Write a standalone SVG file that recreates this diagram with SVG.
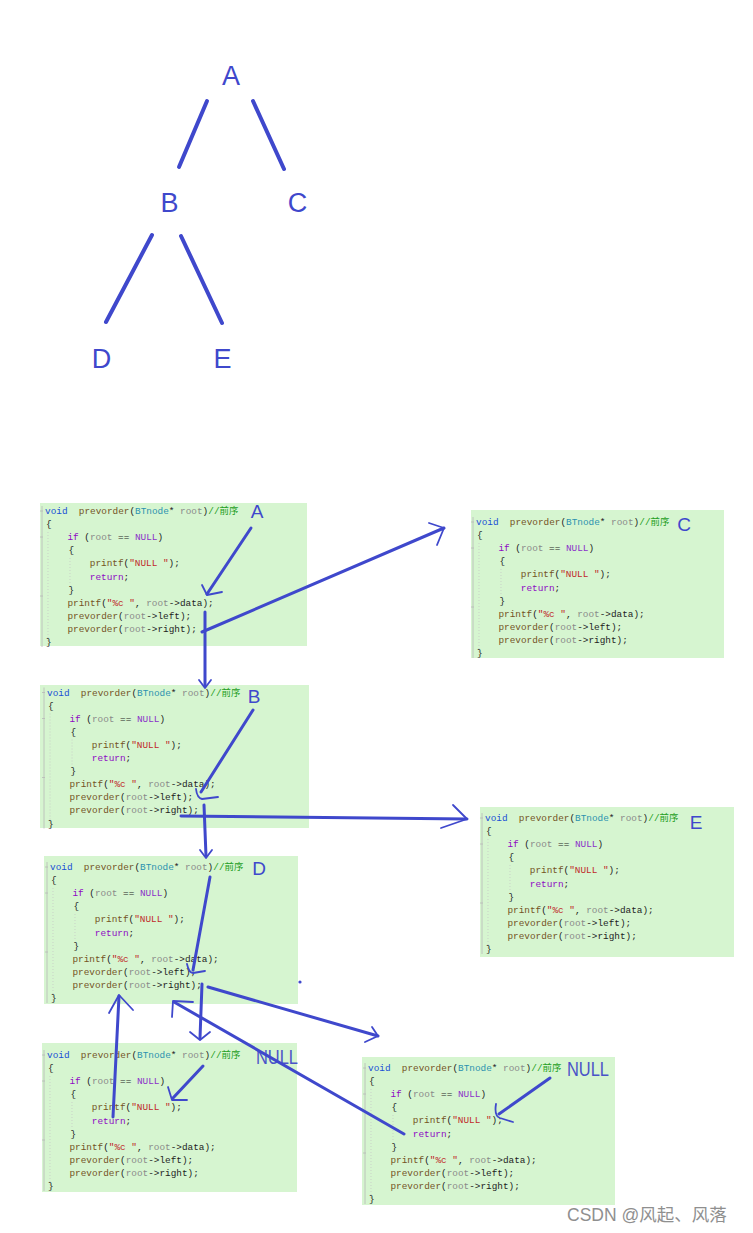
<svg xmlns="http://www.w3.org/2000/svg" width="753" height="1233" viewBox="0 0 753 1233">
<style>
.bg{fill:#ffffff}
.tl{font-family:"Liberation Sans","Noto Sans",sans-serif;font-size:27px;fill:#3f48cc;text-anchor:middle}
.edge{stroke:#3f48cc;stroke-width:4;stroke-linecap:round;fill:none}
.box{fill:#d6f5d0}
.code{font-family:"Liberation Mono","Noto Sans CJK SC",monospace;font-size:9.4px;fill:#1e1e1e;white-space:pre}
.k{fill:#1a4fd6}
.f{fill:#74531f}
.t{fill:#2b91af}
.p{fill:#8a8a8a}
.c{fill:#1e9e1e}
.kw{fill:#8f08c4}
.m{fill:#8b2fc9}
.s{fill:#c0282a}
.gut{stroke:#b8b8b8;stroke-width:0.8;fill:none}
.guide{stroke:#c4c4c4;stroke-width:0.7;stroke-dasharray:1 2;fill:none}
.hl{font-family:"Liberation Sans","Noto Sans",sans-serif;font-size:19px;fill:#3f48cc;text-anchor:middle}
.nl{font-family:"Liberation Sans","Noto Sans",sans-serif;font-size:20px;fill:#4a52c8}
.ln{stroke:#3f48cc;stroke-width:3;stroke-linecap:round;stroke-linejoin:round;fill:none}
.hd{stroke:#3f48cc;stroke-width:1.8;stroke-linecap:round;stroke-linejoin:round;fill:none}
.wm{font-family:"Liberation Sans","Noto Sans CJK SC",sans-serif;font-size:17.5px;fill:#8f8f8f}
</style>
<defs>
<g id="gutter">
<path class="gut" d="M-3,-8 V133"/>
<path class="gut" d="M-5,-3 H-2 M-5,23 H-2 M-5,82 H-2"/>
<path class="guide" d="M3,18 V130 M25,44 V70"/>
</g>
</defs>
<rect class="bg" x="0" y="0" width="753" height="1233"/>

<!-- Tree -->
<g id="tree-A"><text class="tl" x="231" y="85">A</text></g>
<g id="tree-B"><text class="tl" x="169.5" y="212">B</text></g>
<g id="tree-C"><text class="tl" x="297.5" y="212">C</text></g>
<g id="tree-D"><text class="tl" x="101.5" y="368">D</text></g>
<g id="tree-E"><text class="tl" x="222.5" y="368">E</text></g>

<!-- Code box A -->
<g id="node-A">
<rect class="box" x="40" y="503" width="267" height="143"/>
<g transform="translate(45,514)">
<use href="#gutter"/>
<text class="code" x="0" y="0"><tspan class="k">void</tspan>  <tspan class="f">prevorder</tspan>(<tspan class="t">BTnode</tspan>* <tspan class="p">root</tspan>)<tspan class="c">//前序</tspan></text>
<text class="code" x="1" y="13.1">{</text>
<text class="code" x="22.4" y="26.2"><tspan class="kw">if</tspan> (<tspan class="p">root</tspan> == <tspan class="m">NULL</tspan>)</text>
<text class="code" x="23.4" y="39.3">{</text>
<text class="code" x="44.8" y="52.4"><tspan class="f">printf</tspan>(<tspan class="s">"NULL "</tspan>);</text>
<text class="code" x="44.8" y="65.5"><tspan class="kw">return</tspan>;</text>
<text class="code" x="23.4" y="78.6">}</text>
<text class="code" x="22.4" y="91.7"><tspan class="f">printf</tspan>(<tspan class="s">"%c "</tspan>, <tspan class="p">root</tspan>-&gt;data);</text>
<text class="code" x="22.4" y="104.8"><tspan class="f">prevorder</tspan>(<tspan class="p">root</tspan>-&gt;left);</text>
<text class="code" x="22.4" y="117.9"><tspan class="f">prevorder</tspan>(<tspan class="p">root</tspan>-&gt;right);</text>
<text class="code" x="1" y="131">}</text>
</g>
<text class="hl" x="257" y="518">A</text>
</g>

<!-- Code box C -->
<g id="node-C">
<rect class="box" x="471" y="510" width="253" height="148"/>
<g transform="translate(476,525)">
<use href="#gutter"/>
<text class="code" x="0" y="0"><tspan class="k">void</tspan>  <tspan class="f">prevorder</tspan>(<tspan class="t">BTnode</tspan>* <tspan class="p">root</tspan>)<tspan class="c">//前序</tspan></text>
<text class="code" x="1" y="13.1">{</text>
<text class="code" x="22.4" y="26.2"><tspan class="kw">if</tspan> (<tspan class="p">root</tspan> == <tspan class="m">NULL</tspan>)</text>
<text class="code" x="23.4" y="39.3">{</text>
<text class="code" x="44.8" y="52.4"><tspan class="f">printf</tspan>(<tspan class="s">"NULL "</tspan>);</text>
<text class="code" x="44.8" y="65.5"><tspan class="kw">return</tspan>;</text>
<text class="code" x="23.4" y="78.6">}</text>
<text class="code" x="22.4" y="91.7"><tspan class="f">printf</tspan>(<tspan class="s">"%c "</tspan>, <tspan class="p">root</tspan>-&gt;data);</text>
<text class="code" x="22.4" y="104.8"><tspan class="f">prevorder</tspan>(<tspan class="p">root</tspan>-&gt;left);</text>
<text class="code" x="22.4" y="117.9"><tspan class="f">prevorder</tspan>(<tspan class="p">root</tspan>-&gt;right);</text>
<text class="code" x="1" y="131">}</text>
</g>
<text class="hl" x="684" y="531">C</text>
</g>

<!-- Code box B -->
<g id="node-B">
<rect class="box" x="40" y="685" width="269" height="143"/>
<g transform="translate(47,695.5)">
<use href="#gutter"/>
<text class="code" x="0" y="0"><tspan class="k">void</tspan>  <tspan class="f">prevorder</tspan>(<tspan class="t">BTnode</tspan>* <tspan class="p">root</tspan>)<tspan class="c">//前序</tspan></text>
<text class="code" x="1" y="13.1">{</text>
<text class="code" x="22.4" y="26.2"><tspan class="kw">if</tspan> (<tspan class="p">root</tspan> == <tspan class="m">NULL</tspan>)</text>
<text class="code" x="23.4" y="39.3">{</text>
<text class="code" x="44.8" y="52.4"><tspan class="f">printf</tspan>(<tspan class="s">"NULL "</tspan>);</text>
<text class="code" x="44.8" y="65.5"><tspan class="kw">return</tspan>;</text>
<text class="code" x="23.4" y="78.6">}</text>
<text class="code" x="22.4" y="91.7"><tspan class="f">printf</tspan>(<tspan class="s">"%c "</tspan>, <tspan class="p">root</tspan>-&gt;data);</text>
<text class="code" x="22.4" y="104.8"><tspan class="f">prevorder</tspan>(<tspan class="p">root</tspan>-&gt;left);</text>
<text class="code" x="22.4" y="117.9"><tspan class="f">prevorder</tspan>(<tspan class="p">root</tspan>-&gt;right);</text>
<text class="code" x="1" y="131">}</text>
</g>
<text class="hl" x="254" y="703">B</text>
</g>

<!-- Code box E -->
<g id="node-E">
<rect class="box" x="480" y="807" width="254" height="150"/>
<g transform="translate(485,821)">
<use href="#gutter"/>
<text class="code" x="0" y="0"><tspan class="k">void</tspan>  <tspan class="f">prevorder</tspan>(<tspan class="t">BTnode</tspan>* <tspan class="p">root</tspan>)<tspan class="c">//前序</tspan></text>
<text class="code" x="1" y="13.1">{</text>
<text class="code" x="22.4" y="26.2"><tspan class="kw">if</tspan> (<tspan class="p">root</tspan> == <tspan class="m">NULL</tspan>)</text>
<text class="code" x="23.4" y="39.3">{</text>
<text class="code" x="44.8" y="52.4"><tspan class="f">printf</tspan>(<tspan class="s">"NULL "</tspan>);</text>
<text class="code" x="44.8" y="65.5"><tspan class="kw">return</tspan>;</text>
<text class="code" x="23.4" y="78.6">}</text>
<text class="code" x="22.4" y="91.7"><tspan class="f">printf</tspan>(<tspan class="s">"%c "</tspan>, <tspan class="p">root</tspan>-&gt;data);</text>
<text class="code" x="22.4" y="104.8"><tspan class="f">prevorder</tspan>(<tspan class="p">root</tspan>-&gt;left);</text>
<text class="code" x="22.4" y="117.9"><tspan class="f">prevorder</tspan>(<tspan class="p">root</tspan>-&gt;right);</text>
<text class="code" x="1" y="131">}</text>
</g>
<text class="hl" x="696" y="829">E</text>
</g>

<!-- Code box D -->
<g id="node-D">
<rect class="box" x="44" y="856" width="254" height="148"/>
<g transform="translate(50,870)">
<use href="#gutter"/>
<text class="code" x="0" y="0"><tspan class="k">void</tspan>  <tspan class="f">prevorder</tspan>(<tspan class="t">BTnode</tspan>* <tspan class="p">root</tspan>)<tspan class="c">//前序</tspan></text>
<text class="code" x="1" y="13.1">{</text>
<text class="code" x="22.4" y="26.2"><tspan class="kw">if</tspan> (<tspan class="p">root</tspan> == <tspan class="m">NULL</tspan>)</text>
<text class="code" x="23.4" y="39.3">{</text>
<text class="code" x="44.8" y="52.4"><tspan class="f">printf</tspan>(<tspan class="s">"NULL "</tspan>);</text>
<text class="code" x="44.8" y="65.5"><tspan class="kw">return</tspan>;</text>
<text class="code" x="23.4" y="78.6">}</text>
<text class="code" x="22.4" y="91.7"><tspan class="f">printf</tspan>(<tspan class="s">"%c "</tspan>, <tspan class="p">root</tspan>-&gt;data);</text>
<text class="code" x="22.4" y="104.8"><tspan class="f">prevorder</tspan>(<tspan class="p">root</tspan>-&gt;left);</text>
<text class="code" x="22.4" y="117.9"><tspan class="f">prevorder</tspan>(<tspan class="p">root</tspan>-&gt;right);</text>
<text class="code" x="1" y="131">}</text>
</g>
<text class="hl" x="259" y="875">D</text>
</g>

<!-- Code box NULL (left child of D) -->
<g id="node-NULL-left">
<rect class="box" x="42" y="1043" width="255" height="149"/>
<g transform="translate(47,1058)">
<use href="#gutter"/>
<text class="code" x="0" y="0"><tspan class="k">void</tspan>  <tspan class="f">prevorder</tspan>(<tspan class="t">BTnode</tspan>* <tspan class="p">root</tspan>)<tspan class="c">//前序</tspan></text>
<text class="code" x="1" y="13.1">{</text>
<text class="code" x="22.4" y="26.2"><tspan class="kw">if</tspan> (<tspan class="p">root</tspan> == <tspan class="m">NULL</tspan>)</text>
<text class="code" x="23.4" y="39.3">{</text>
<text class="code" x="44.8" y="52.4"><tspan class="f">printf</tspan>(<tspan class="s">"NULL "</tspan>);</text>
<text class="code" x="44.8" y="65.5"><tspan class="kw">return</tspan>;</text>
<text class="code" x="23.4" y="78.6">}</text>
<text class="code" x="22.4" y="91.7"><tspan class="f">printf</tspan>(<tspan class="s">"%c "</tspan>, <tspan class="p">root</tspan>-&gt;data);</text>
<text class="code" x="22.4" y="104.8"><tspan class="f">prevorder</tspan>(<tspan class="p">root</tspan>-&gt;left);</text>
<text class="code" x="22.4" y="117.9"><tspan class="f">prevorder</tspan>(<tspan class="p">root</tspan>-&gt;right);</text>
<text class="code" x="1" y="131">}</text>
</g>
<text class="nl" x="256" y="1064" textLength="42" lengthAdjust="spacingAndGlyphs">NULL</text>
</g>

<!-- Code box NULL (right child of D) -->
<g id="node-NULL-right">
<rect class="box" x="362" y="1057" width="253" height="148"/>
<g transform="translate(368,1071)">
<use href="#gutter"/>
<text class="code" x="0" y="0"><tspan class="k">void</tspan>  <tspan class="f">prevorder</tspan>(<tspan class="t">BTnode</tspan>* <tspan class="p">root</tspan>)<tspan class="c">//前序</tspan></text>
<text class="code" x="1" y="13.1">{</text>
<text class="code" x="22.4" y="26.2"><tspan class="kw">if</tspan> (<tspan class="p">root</tspan> == <tspan class="m">NULL</tspan>)</text>
<text class="code" x="23.4" y="39.3">{</text>
<text class="code" x="44.8" y="52.4"><tspan class="f">printf</tspan>(<tspan class="s">"NULL "</tspan>);</text>
<text class="code" x="44.8" y="65.5"><tspan class="kw">return</tspan>;</text>
<text class="code" x="23.4" y="78.6">}</text>
<text class="code" x="22.4" y="91.7"><tspan class="f">printf</tspan>(<tspan class="s">"%c "</tspan>, <tspan class="p">root</tspan>-&gt;data);</text>
<text class="code" x="22.4" y="104.8"><tspan class="f">prevorder</tspan>(<tspan class="p">root</tspan>-&gt;left);</text>
<text class="code" x="22.4" y="117.9"><tspan class="f">prevorder</tspan>(<tspan class="p">root</tspan>-&gt;right);</text>
<text class="code" x="1" y="131">}</text>
</g>
<text class="nl" x="567" y="1076" textLength="42" lengthAdjust="spacingAndGlyphs">NULL</text>
</g>

<!-- Connectors -->
<g id="connectors">
<!-- tree edges -->
<path class="edge" d="M207,101 L179,167"/>
<path class="edge" d="M253,101 L284,169"/>
<path class="edge" d="M152,235 L106,322"/>
<path class="edge" d="M181,236 L222,323"/>

<!-- A: label to printf data -->
<path class="ln" d="M251,528 L207,594"/>
<path class="hd" d="M202,585 L207,595 L222,592"/>
<!-- A: left call to B -->
<path class="ln" d="M205,612 L205,686"/>
<path class="hd" d="M199,680 L205,688 L211,680"/>
<!-- A: right call to C -->
<path class="ln" d="M202,632 L444,528"/>
<path class="hd" d="M429,523 L444,528 L437,545"/>

<!-- B: label to printf data -->
<path class="ln" d="M253,710 L201,792"/>
<path class="hd" d="M196,789 Q197,798 202,799 L218,797"/>
<!-- B: left call to D -->
<path class="ln" d="M204,805 L206,856"/>
<path class="hd" d="M200,850 L206,858 L212,850"/>
<!-- B: right call to E -->
<path class="ln" d="M181,816 L467,819"/>
<path class="hd" d="M453,805 L467,819 L441,828"/>

<!-- D: label to printf data -->
<path class="ln" d="M210,877 L193,970"/>
<path class="hd" d="M187,964 Q189,973 193,973 L205,971"/>
<!-- D: left call to NULL -->
<path class="ln" d="M202,984 L200,1038"/>
<path class="hd" d="M190,1032 L200,1040 L210,1032"/>
<!-- D: right call to NULL -->
<path class="ln" d="M208,987 L378,1036"/>
<path class="hd" d="M372,1027 L378,1036 L365,1042"/>

<!-- NULL left: label to printf -->
<path class="ln" d="M203,1066 L173,1098"/>
<path class="hd" d="M168,1087 L172,1100 L187,1100"/>
<!-- NULL left: return back to D -->
<path class="ln" d="M113,1117 L119,996"/>
<path class="hd" d="M109,1013 L119,995 L133,1010"/>

<!-- NULL right: label to printf -->
<path class="ln" d="M550,1078 L499,1114"/>
<path class="hd" d="M496,1104 Q494,1116 500,1118 L513,1122"/>
<!-- NULL right: return back to D -->
<path class="ln" d="M404,1134 L174,1002"/>
<path class="hd" d="M172,1017 L173,1001 L193,1002"/>

<circle cx="300" cy="982" r="1.6" fill="#3f48cc"/>
</g>

<text class="wm" x="567" y="1221">CSDN @风起、风落</text>
</svg>
